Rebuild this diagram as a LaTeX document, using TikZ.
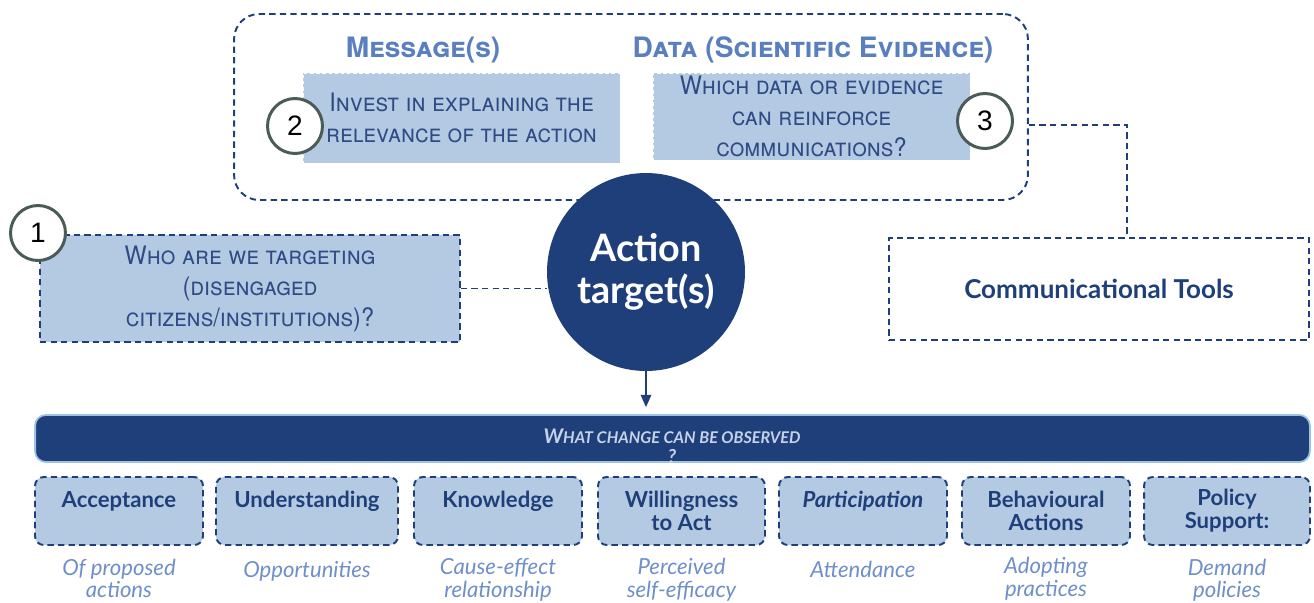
\documentclass[tikz,border=0pt]{standalone}
\usepackage{fontspec}
\setmainfont{Lato}
\newfontfamily\scapfont[FakeStretch=0.92]{TeX Gyre Heros}
\newfontfamily\headfont{TeX Gyre Heros}
\newfontfamily\digitfont{Liberation Sans}
\usetikzlibrary{positioning,arrows.meta}
\definecolor{navy}{HTML}{1F3F7A}
\definecolor{paleblue}{HTML}{B4CAE3}
\definecolor{titleblue}{HTML}{5A7FC0}
\definecolor{noteblue}{HTML}{6E8FC9}
\definecolor{inkblue}{HTML}{2F4B85}
\definecolor{ringgrey}{HTML}{4B5B57}
\definecolor{rimblue}{HTML}{9DC3E6}
\definecolor{bandtext}{HTML}{C5D2E8}
\begin{document}
\begin{tikzpicture}[x=0.02cm,y=-0.02cm,>={Triangle[length=7pt,width=6pt]},
    dashline/.style={draw=navy,line width=1.1pt,dash pattern=on 3.6pt off 2.4pt},
    askbox/.style={fill=paleblue,draw=white,line width=0.5pt,dash pattern=on 2pt off 1.5pt,
        text=inkblue,align=center,inner sep=0pt,font=\scapfont\scshape\fontsize{14.5}{17.6}\selectfont},
    ring/.style={circle,draw=ringgrey,line width=1.7pt,fill=white,minimum size=1.1cm,
        inner sep=0pt,font=\digitfont\fontsize{16}{16}\selectfont},
    heading/.style={text=titleblue,inner sep=0pt,font=\headfont\bfseries\scshape\fontsize{16}{16}\selectfont},
    changebox/.style={dashline,fill=paleblue,rounded corners=5pt,minimum height=1.36cm,
        inner sep=0pt,align=center,text=navy,font=\bfseries\fontsize{12.6}{13}\selectfont},
    note/.style={text=noteblue,align=center,inner sep=0pt,font=\itshape\fontsize{12.6}{13}\selectfont}]
\useasboundingbox (0,0) rectangle (1314,602);
% top group: messages and data
\node (grp) [dashline,rounded corners=0.5cm,minimum width=15.88cm,minimum height=3.72cm] at (631,107) {};
\node (msg) [heading] at (423,50) {Message(s)};
\node (data) [heading] at (813,50) {Data (Scientific Evidence)};
\node (b2) [askbox,minimum width=6.34cm,minimum height=1.8cm] at (461.5,118) {Invest in explaining the\\relevance of the action};
\node (b3) [askbox,minimum width=6.34cm,minimum height=1.74cm] at (811.5,116.5) {Which data or evidence\\can reinforce\\communications?};
\node (c2) [ring] at (295,126) {2};
\node (c3) [ring] at (985,121) {3};
% target and audience
\node (b1) [askbox,dashline,minimum width=8.4cm,minimum height=2.14cm] at (250,288.5) {Who are we targeting\\(disengaged\\citizens/institutions)?};
\node (c1) [ring] at (38,233) {1};
\node (act) [circle,fill=navy,minimum size=3.96cm,text=white,align=center,
    font=\bfseries\fontsize{21.5}{24}\selectfont] at (646,272) {Action\\target(s)};
\node (tools) [dashline,fill=white,minimum width=8.4cm,minimum height=2.04cm,text=navy,
    font=\bfseries\fontsize{14.8}{14.8}\selectfont] at (1099,289) {Communicational Tools};
\coordinate (turn) at (1127,125);
\draw[dashline] (b1.east) -- (b1.east -| act.west);
\draw[dashline] (grp.east |- turn) -- (turn) -- (turn |- tools.north);
% observed change
\node (band) [fill=navy,draw=rimblue,line width=1pt,rounded corners=6pt,minimum width=25.5cm,
    minimum height=0.94cm] at (672.5,438.5) {};
\node (ask) [text=bandtext,align=center,inner sep=0pt,font=\bfseries\itshape\fontsize{9.2}{11.4}\selectfont]
    at (672,446) {{\fontsize{11.5}{11}\selectfont W}HAT CHANGE CAN BE OBSERVED\\{\fontsize{11}{11}\selectfont ?}};
\draw[->,navy,line width=0.8pt,shorten >=0.14cm] (act.south) -- (act.south |- band.north);
\node (acc) [changebox,minimum width=3.36cm] at (119,511) {Acceptance\\\phantom{X}};
\node (und) [changebox,minimum width=3.64cm] at (307,511) {Understanding\\\phantom{X}};
\node (know) [changebox,minimum width=3.36cm] at (498,511) {Knowledge\\\phantom{X}};
\node (will) [changebox,minimum width=3.34cm] at (681.5,511) {Willingness\\to Act};
\node (part) [changebox,minimum width=3.36cm] at (863,511) {\itshape Participation\\\phantom{X}};
\node (behav) [changebox,minimum width=3.36cm] at (1046,511) {Behavioural\\Actions};
\node (pol) [changebox,minimum width=3.32cm] at (1227,511) {Policy\\Support:};
\node (accn) [note,below=0.25cm of acc] {Of proposed\\actions};
\node (undn) [note,below=0.3cm of und] {Opportunities};
\node (known) [note,below=0.24cm of know] {Cause-effect\\relationship};
\node (willn) [note,below=0.24cm of will] {Perceived\\self-efficacy};
\node (partn) [note,below=0.3cm of part] {Attendance};
\node (behavn) [note,below=0.22cm of behav] {Adopting\\practices};
\node (poln) [note,below=0.25cm of pol] {Demand\\policies};
\end{tikzpicture}
\end{document}
